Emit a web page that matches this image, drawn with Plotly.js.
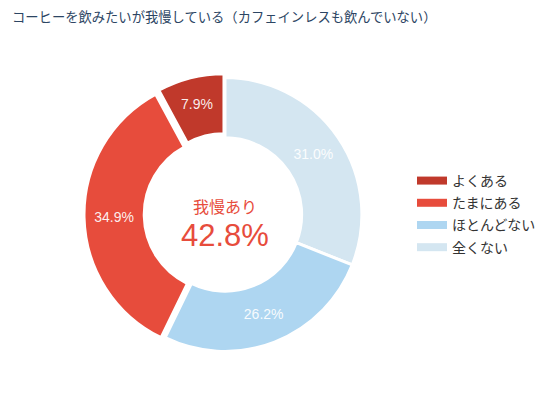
<!DOCTYPE html>
<html>
<head>
<meta charset="utf-8">
<script src="https://cdn.plot.ly/plotly-3.0.1.min.js"></script>
<style>html,body{margin:0;padding:0;background:#fff;}#chart{width:553px;height:399px;}</style>
</head>
<body>
<div id="chart"></div>
<script>
var chartTitle = 'コーヒーを飲みたいが我慢している（カフェインレスも飲んでいない）';
var categories = ['よくある', 'たまにある', 'ほとんどない', '全くない'];
var values = [7.9, 34.9, 26.2, 31.0];
var colors = ['#c0392b', '#e74c3c', '#aed6f1', '#d4e6f1'];
var pulls = [0.03, 0.03, 0, 0];
var centerLabel = '我慢あり';
var centerValue = '42.8%';

var jpFont = '"Noto Sans CJK JP", "Noto Sans", sans-serif';
var numFont = '"Liberation Sans", Arial, sans-serif';

// Slices run clockwise from 12 o'clock in the reverse of the legend order
function rev(a) { return a.slice().reverse(); }

var traces = [{
  type: 'pie',
  labels: rev(categories),
  values: rev(values),
  sort: false,
  direction: 'clockwise',
  rotation: 0,
  hole: 0.56,
  pull: rev(pulls),
  marker: {colors: rev(colors), line: {color: '#ffffff', width: 3}},
  texttemplate: '%{value:.1f}%',
  textposition: 'inside',
  insidetextorientation: 'horizontal',
  textfont: {family: numFont, size: 14, color: 'rgba(255,255,255,0.92)'},
  showlegend: false,
  domain: {x: [0.1519, 0.6618], y: [0.1089, 0.8159]},
  hoverinfo: 'none'
}];

categories.forEach(function (c, i) {
  traces.push({
    type: 'scatter',
    mode: 'lines',
    x: [null], y: [null],
    name: c,
    legendgroup: 'g' + i,
    line: {color: colors[i], width: 8},
    hoverinfo: 'none'
  });
});

var layout = {
  width: 553,
  height: 399,
  margin: {l: 0, r: 0, t: 0, b: 0},
  paper_bgcolor: '#ffffff',
  plot_bgcolor: '#ffffff',
  title: {
    text: chartTitle,
    font: {family: jpFont, size: 13.3, color: '#2c4563'},
    x: 12 / 553, xref: 'paper', xanchor: 'left',
    y: 1 - 17 / 399, yref: 'container', yanchor: 'middle'
  },
  xaxis: {visible: false},
  yaxis: {visible: false},
  showlegend: true,
  legend: {
    x: 0.745, xanchor: 'left',
    y: 0.4637, yanchor: 'middle',
    font: {family: jpFont, size: 14, color: '#333333'},
    tracegroupgap: 1,
    itemwidth: 30,
    bgcolor: 'rgba(0,0,0,0)'
  },
  annotations: [
    {text: centerLabel, x: 225 / 553, y: 1 - 220 / 399, xref: 'paper', yref: 'paper',
     showarrow: false, xanchor: 'center', yanchor: 'bottom',
     font: {family: jpFont, size: 16, color: '#e74c3c'}},
    {text: centerValue, x: 225 / 553, y: 1 - 216 / 399, xref: 'paper', yref: 'paper',
     showarrow: false, xanchor: 'center', yanchor: 'top',
     font: {family: numFont, size: 31, color: '#e74c3c'}}
  ]
};

Plotly.newPlot('chart', traces, layout, {displayModeBar: false, staticPlot: true});
</script>
</body>
</html>
